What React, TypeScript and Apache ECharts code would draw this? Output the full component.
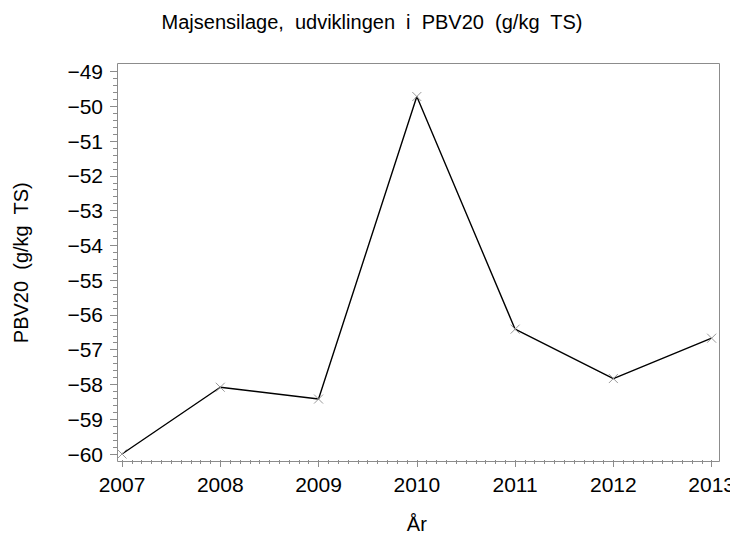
import React, { useEffect, useRef } from "react";
import * as echarts from "echarts";

const years = [2007, 2008, 2009, 2010, 2011, 2012, 2013];
const pbv20 = [-60.0, -58.08, -58.42, -49.72, -56.41, -57.83, -56.67];
const titleText = "Majsensilage,  udviklingen  i  PBV20  (g/kg  TS)";
const yName = "PBV20  (g/kg  TS)";
const xName = "År";

export default function App() {
  const ref = useRef<HTMLDivElement>(null);
  useEffect(() => {
    const chart = echarts.init(ref.current!, null, { renderer: "svg" });
    const font = "'Liberation Sans', Arial, Helvetica, sans-serif";
    chart.setOption({
      animation: false,
      backgroundColor: "#ffffff",
      title: {
        text: titleText,
        left: 367,
        textAlign: "center",
        top: 7,
        textStyle: { fontFamily: font, fontSize: 20, fontWeight: "normal", color: "#000" },
      },
      grid: { left: 122, right: 25, top: 71.5, bottom: 84 },
      graphic: [
        {
          type: "rect",
          shape: { x: 117.5, y: 63.5, width: 602, height: 398 },
          style: { fill: "none", stroke: "#8c8c8c", lineWidth: 1 },
          silent: true,
          z: 0,
        },
      ],
      xAxis: {
        type: "value",
        min: 2007,
        max: 2013,
        interval: 1,
        offset: 6,
        axisLine: { show: false },
        axisTick: { show: true, length: 7, lineStyle: { color: "#8c8c8c" } },
        minorTick: { show: true, splitNumber: 10, length: 4, lineStyle: { color: "#8c8c8c" } },
        splitLine: { show: false },
        axisLabel: {
          margin: 14,
          fontFamily: font,
          fontSize: 21,
          color: "#000",
          formatter: (v: number) => String(v),
        },
        name: xName,
        nameLocation: "middle",
        nameGap: 54,
        nameTextStyle: { fontFamily: font, fontSize: 20, color: "#000" },
      },
      yAxis: {
        type: "value",
        min: -60,
        max: -49,
        interval: 1,
        offset: 5,
        axisLine: { show: false },
        axisTick: { show: true, length: 7, lineStyle: { color: "#8c8c8c" } },
        minorTick: { show: true, splitNumber: 5, length: 4, lineStyle: { color: "#8c8c8c" } },
        splitLine: { show: false },
        axisLabel: {
          margin: 14,
          fontFamily: font,
          fontSize: 21,
          color: "#000",
          formatter: (v: number) => (v < 0 ? "−" + Math.abs(v) : String(v)),
        },
        name: yName,
        nameLocation: "middle",
        nameRotate: 90,
        nameGap: 86,
        nameTextStyle: { fontFamily: font, fontSize: 20, color: "#000" },
      },
      series: [
        {
          type: "line",
          data: years.map((y, i) => [y, pbv20[i]]),
          symbol: "path://M0,0L10,10M10,0L0,10",
          symbolSize: 9,
          showSymbol: true,
          lineStyle: { color: "#000", width: 1.4 },
          itemStyle: { color: "none", borderColor: "#9a9a9a", borderWidth: 1 },
          z: 3,
        },
      ],
    });
    return () => chart.dispose();
  }, []);
  return <div ref={ref} style={{ width: 738, height: 539, margin: -8 }} />;
}
